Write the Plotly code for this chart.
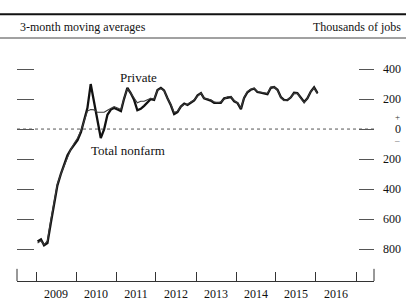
import pandas as pd
import plotly.graph_objects as go

# ---- data (3-month moving averages, thousands of jobs) ----
start_month = "2009-01-01"
n_months = 85
total_nonfarm = [
    -750, -735, -775, -760, -630, -500, -375, -300, -240, -175, -135, -105,   # 2009
    -75, -20, 50, 140, 300, 180, 45, -60, 0, 95, 130, 140,                   # 2010
    130, 120, 200, 275, 240, 195, 125, 135, 155, 180, 200, 195,              # 2011
    260, 275, 258, 205, 160, 100, 113, 150, 170, 160, 175, 190,              # 2012
    225, 240, 205, 198, 190, 175, 175, 175, 205, 210, 213, 185,              # 2013
    173, 133, 205, 245, 262, 270, 247, 242, 235, 232, 275, 280,              # 2014
    262, 212, 195, 193, 210, 242, 240, 210, 180, 205, 250, 278,              # 2015
    240,                                                                     # 2016
]
private = [
    -760, -745, -770, -745, -610, -480, -365, -300, -245, -180, -135, -95,
    -60, -10, 55, 120, 130, 128, 112, 110, 112, 125, 140, 150,
    140, 130, 205, 270, 240, 210, 175, 185, 185, 195, 205, 200,
    260, 270, 255, 205, 165, 110, 118, 150, 165, 165, 178, 195,
    220, 240, 205, 200, 195, 180, 175, 180, 200, 215, 215, 190,
    175, 140, 210, 250, 265, 272, 250, 245, 240, 238, 280, 282,
    258, 210, 190, 195, 212, 238, 238, 208, 175, 205, 252, 275,
    235,
]
y_tick_vals = [400, 200, 0, -200, -400, -600, -800]
y_tick_text = ["400", "200", "0", "200", "400", "600", "800"]

dates = pd.date_range(start_month, periods=n_months, freq="MS") + pd.Timedelta(days=14)

FONT = "Liberation Serif"
fig = go.Figure()
fig.add_trace(go.Scatter(x=dates, y=total_nonfarm, mode="lines",
                         line=dict(color="#111111", width=2.3), name="Total nonfarm"))
fig.add_trace(go.Scatter(x=dates, y=private, mode="lines",
                         line=dict(color="#3a3a3a", width=1.1), name="Private"))
fig.add_trace(go.Scatter(x=dates[:1], y=[None], yaxis="y2", showlegend=False, hoverinfo="skip"))

yr = [-1013, 607]
fig.update_layout(
    width=406, height=300,
    margin=dict(l=17, r=32, t=38, b=19),
    paper_bgcolor="white", plot_bgcolor="white",
    showlegend=False,
    font=dict(family=FONT, size=12, color="#111"),
    xaxis=dict(
        type="date", range=["2008-07-11", "2017-06-14"], automargin=False,
        tickmode="linear", tick0="2009-01-01", dtick="M12",
        ticklabelmode="period", ticks="inside", ticklen=9, tickwidth=1, tickcolor="#333",
        ticklabelstandoff=2,
        showline=True, linecolor="#333", linewidth=1,
        showgrid=False, zeroline=False,
        tickfont=dict(family=FONT, size=12, color="#111"),
    ),
    yaxis=dict(
        range=yr, tickmode="array", tickvals=y_tick_vals, automargin=False,
        ticks="inside", ticklen=17, tickwidth=1, tickcolor="#555",
        showticklabels=False, showgrid=False, showline=False, zeroline=False,
    ),
    yaxis2=dict(
        range=yr, overlaying="y", side="right", tickmode="array", tickvals=y_tick_vals,
        automargin=False,
        ticks="inside", ticklen=15, tickwidth=1, tickcolor="#555",
        showticklabels=False, showgrid=False, showline=False, zeroline=False,
    ),
)

# zero line (dotted)
fig.add_shape(type="line", xref="paper", yref="y", x0=0, x1=1, y0=0, y1=0,
              line=dict(color="#555", width=1, dash="dot"), layer="below")

# header rules and texts
fig.add_shape(type="line", xref="paper", yref="paper", x0=-0.05, x1=1.1, y0=1.0975, y1=1.0975,
              line=dict(color="#111", width=2))
fig.add_shape(type="line", xref="paper", yref="paper", x0=-0.05, x1=1.1, y0=1.0, y1=1.0,
              line=dict(color="#444", width=1))
fig.add_annotation(text="3-month moving averages", xref="paper", yref="paper",
                   x=0.003, y=1.045, xanchor="left", yanchor="middle", showarrow=False,
                   font=dict(family=FONT, size=12, color="#111"))
fig.add_annotation(text="Thousands of jobs", xref="paper", yref="paper",
                   x=1.081, y=1.045, xanchor="right", yanchor="middle", showarrow=False,
                   font=dict(family=FONT, size=12, color="#111"))

# end ticks of the x axis
for xp in (0, 1):
    fig.add_shape(type="line", xref="paper", yref="paper", x0=xp, x1=xp, y0=0, y1=0.05,
                  line=dict(color="#333", width=1))

# right-hand tick labels (right aligned)
for v, t in zip(y_tick_vals, y_tick_text):
    fig.add_annotation(text=t, xref="paper", yref="y", x=1.081, y=v, xanchor="right",
                       yanchor="middle", showarrow=False,
                       font=dict(family=FONT, size=12, color="#111"))
fig.add_annotation(text="+", xref="paper", yref="y", x=1.078, y=0, yshift=12, xanchor="right",
                   yanchor="middle", showarrow=False, font=dict(family=FONT, size=9, color="#333"))
fig.add_annotation(text="\u2013", xref="paper", yref="y", x=1.078, y=0, yshift=-11, xanchor="right",
                   yanchor="middle", showarrow=False, font=dict(family=FONT, size=9, color="#555"))

# series labels
fig.add_annotation(text="Private", x="2011-07-28", y=347, showarrow=False,
                   font=dict(family=FONT, size=13, color="#111"))
fig.add_annotation(text="Total nonfarm", x="2011-04-20", y=-140, showarrow=False,
                   font=dict(family=FONT, size=13, color="#111"))

fig.write_html("out.html", config={"displayModeBar": False},
               post_script="document.body.style.margin='0';document.body.style.overflow='hidden';")
